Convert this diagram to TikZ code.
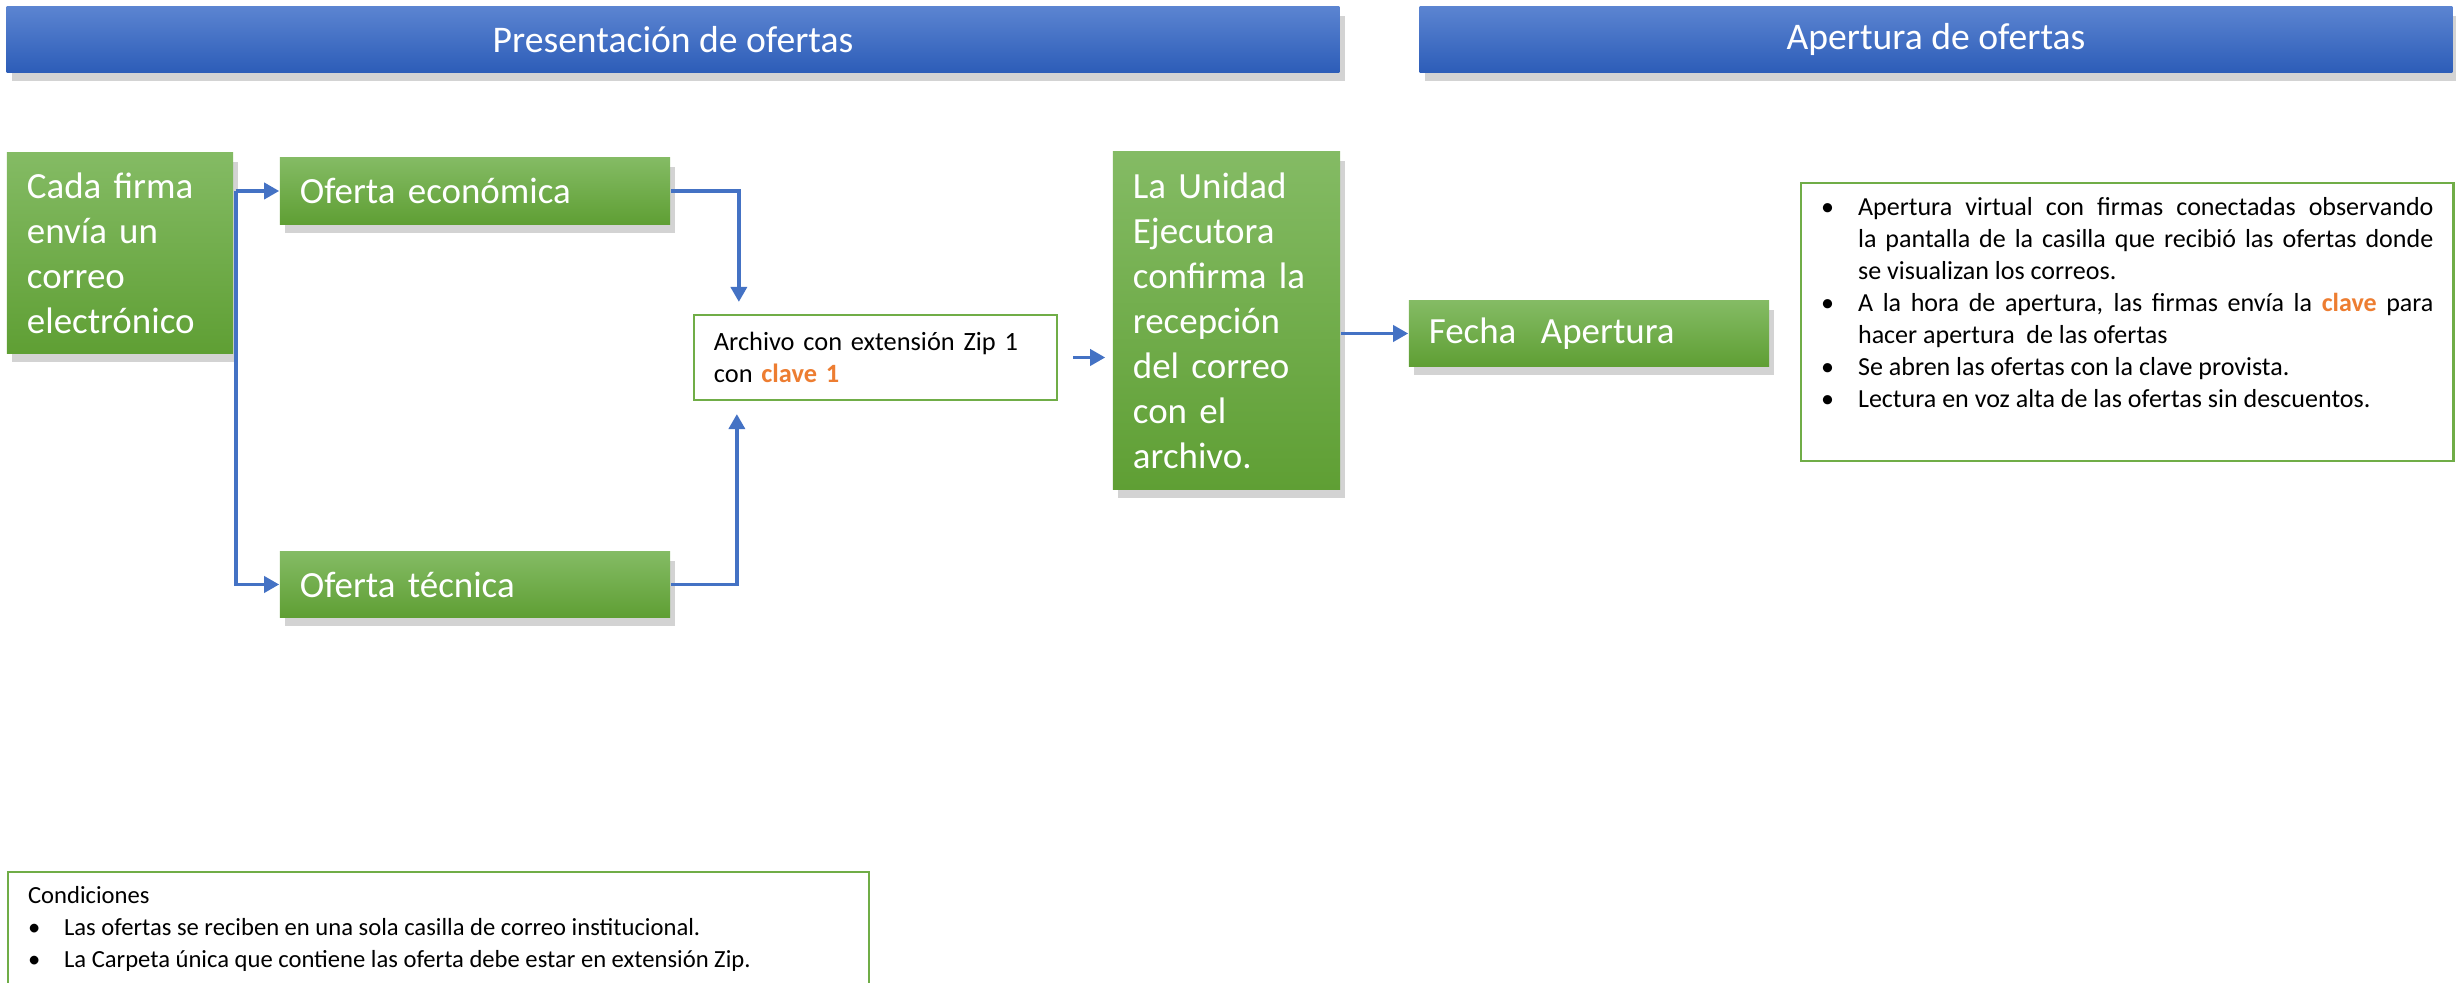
\documentclass[tikz,border=0pt]{standalone}
\usepackage{fontspec}
\setmainfont{Carlito}
\usepackage{tikz}
\usetikzlibrary{arrows.meta,shadows,positioning}
\definecolor{hdtop}{HTML}{5B84D1}
\definecolor{hdbot}{HTML}{2D5DB8}
\definecolor{grtop}{HTML}{84BB64}
\definecolor{grbot}{HTML}{5F9F34}
\definecolor{grline}{HTML}{70AD47}
\definecolor{arblue}{HTML}{4472C4}
\definecolor{clave}{HTML}{ED7D31}
\tikzstyle{Hbar}=[top color=hdtop,bottom color=hdbot,text=white,minimum height=0.65cm,
               inner sep=0pt,font=\fontsize{10.7}{12}\selectfont,
               drop shadow={shadow xshift=1.5pt,shadow yshift=-2.5pt,opacity=0.35}]
\tikzstyle{Gbox}=[top color=grtop,bottom color=grbot,text=white,align=left,
               inner xsep=0.2cm,font=\fontsize{10.5}{12.8}\selectfont,
               drop shadow={shadow xshift=1.5pt,shadow yshift=-2.5pt,opacity=0.35}]
\tikzstyle{Tbox}=[draw=grline,line width=0.6pt,fill=white,text=black,align=left]
\tikzstyle{aF}=[draw=arblue,line width=1pt,-{Triangle[width=4.6pt,length=4.3pt]}]
\newenvironment{vinetas}[1]{\begin{list}{\textbullet}{\setlength\leftmargin{#1}%
  \setlength\labelsep{0.2cm}\setlength\labelwidth{\dimexpr#1-0.2cm\relax}%
  \renewcommand\makelabel[1]{##1\hfil}%
  \setlength\itemsep{0pt}\setlength\parsep{0pt}\setlength\topsep{0pt}\setlength\partopsep{0pt}}}%
  {\end{list}}
\begin{document}
\begin{tikzpicture}[x=0.01cm,y=-0.01cm]
	\useasboundingbox (0,0) rectangle (2456,983);

	\node[Hbar,minimum width=13.32cm] (hdPres) at (673,39.5) {Presentación de ofertas};
	\node[Hbar,minimum width=10.32cm] (hdAper) at (1936,39.5) {Apertura de ofertas};

	\node[Gbox,minimum height=2cm,text width=1.86cm] (firma) at (120,253)
		{Cada firma\\envía un\\correo\\electrónico};
	\node[Gbox,minimum height=0.66cm,text width=3.5cm] (econ) at (475,191) {Oferta económica};
	\node[Gbox,minimum height=0.65cm,text width=3.5cm] (tecnica) at (475,584.5) {Oferta técnica};
	\node[Tbox,minimum height=0.85cm,text width=3.23cm,inner xsep=0.2cm,
		font=\fontsize{7.5}{9.1}\selectfont] (zip) at (875.5,357.5)
		{Archivo con extensión Zip 1\\con \textcolor{clave}{\textbf{clave 1}}};
	\node[Gbox,minimum height=3.37cm,text width=1.87cm] (unidad) at (1226.5,320.5)
		{La Unidad\\Ejecutora\\confirma la\\recepción\\del correo\\con el\\archivo.};
	\node[Gbox,minimum height=0.65cm,text width=3.2cm] (fecha) at (1589,333.5) {Fecha\ \ Apertura};

	\node[Tbox,anchor=north west,inner xsep=0.2cm,inner ysep=0.14cm,
		font=\fontsize{7.4}{9.1}\selectfont] (pasos) at (1800,182)
		{\begin{minipage}[c][2.5cm][t]{6.12cm}
		\begin{vinetas}{0.37cm}
		\item Apertura virtual con firmas conectadas observando\linebreak la pantalla de la casilla que recibió las ofertas donde\linebreak se visualizan los correos.
		\item A la hora de apertura, las firmas envía la \textcolor{clave}{\textbf{clave}} para\linebreak hacer apertura\ \ de las ofertas
		\item Se abren las ofertas con la clave provista.
		\item Lectura en voz alta de las ofertas sin descuentos.
		\end{vinetas}
		\end{minipage}};

	\node[Tbox,anchor=north west,inner xsep=0.2cm,inner ysep=0.14cm,
		font=\fontsize{7}{9.1}\selectfont] (cond) at (7,871)
		{\begin{minipage}[c][1.4cm][t]{8.2cm}
		Condiciones
		\begin{vinetas}{0.36cm}
		\item Las ofertas se reciben en una sola casilla de correo institucional.
		\item La Carpeta única que contiene las oferta debe estar en extensión Zip.
		\end{vinetas}
		\end{minipage}};

	\coordinate[right=0.02cm of firma.east] (fork);
	\draw[aF] (fork |- econ.west) -- (econ.west);
	\draw[aF] (fork |- econ.west) -- (fork |- tecnica.west) -- (tecnica.west);
	\draw[aF,shorten >=0.12cm] (econ.east) -| ([xshift=0.46cm]zip.north west);
	\draw[aF,shorten >=0.13cm] (tecnica.east) -| ([xshift=0.44cm]zip.south west);
	\draw[aF,shorten <=0.15cm,shorten >=0.07cm] (zip.east) -- (zip.east -| unidad.west);
	\draw[aF] (unidad.east |- fecha.west) -- (fecha.west);
\end{tikzpicture}
\end{document}
